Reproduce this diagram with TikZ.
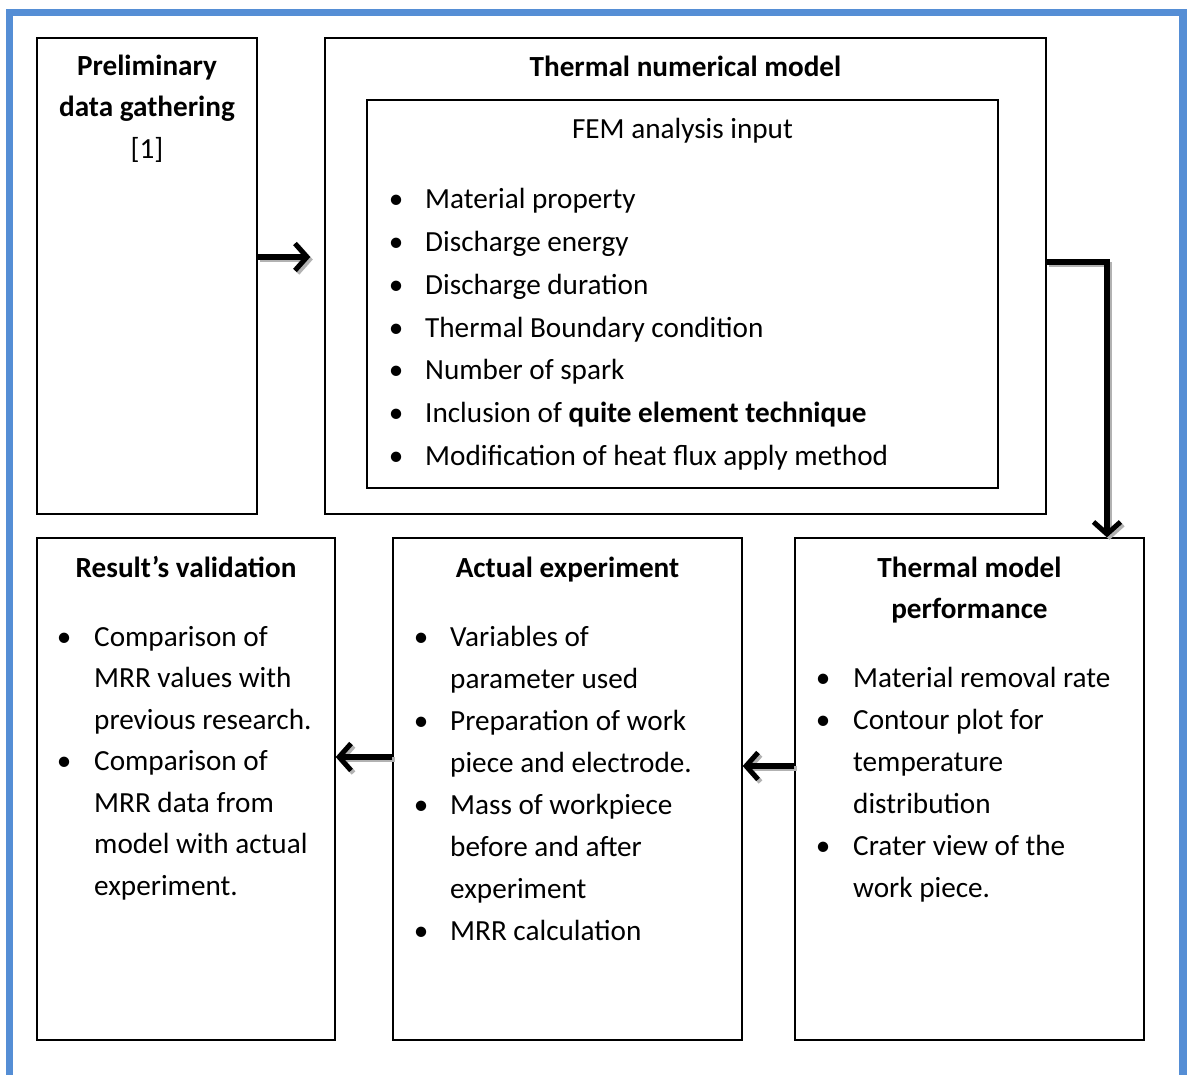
\documentclass[tikz,border=0pt]{standalone}
\usepackage{fontspec}
\setmainfont{Carlito}
\usetikzlibrary{arrows.meta,shadows}
\definecolor{frameblue}{RGB}{85,142,213}
\newcommand{\bul}{\makebox[0pt]{\textbullet}}
\begin{document}
\begin{tikzpicture}[x=1pt,y=-1pt,
  box/.style={draw=black, line width=1.4pt, fill=white, inner sep=0pt,
    drop shadow={shadow xshift=1.4pt,shadow yshift=-1.4pt,fill=gray!70,opacity=1}},
  txt/.style={inner sep=0pt, anchor=base, font=\fontsize{29.2}{41.5}\selectfont},
  ttl/.style={inner sep=0pt, anchor=base, font=\fontsize{29.2}{41.5}\selectfont\bfseries},
  lst/.style={inner sep=0pt, anchor=base west},
  arr/.style={line width=5.5pt, -{Straight Barb[length=12pt,width=27pt,line width=5pt]}},
  arrsh/.style={arr, draw=gray!60, transform canvas={shift={(2.5pt,-2.5pt)}}},
]
\useasboundingbox (0,0) rectangle (1187,1075);
\fill[white] (0,0) rectangle (1187,1075);
% frame
\draw[frameblue, line width=7.5pt] (9.5,1095) -- (9.5,12.5) -- (1183,12.5) -- (1183,1095);

% boxes
\node[box, minimum width=220pt, minimum height=476pt] (prelim) at (147,276) {};
\node[box, minimum width=721pt, minimum height=476pt] (tnm) at (685.5,276) {};
\node[box, minimum width=631pt, minimum height=388pt] (fem) at (682.5,294) {};
\node[box, minimum width=298pt, minimum height=502pt] (valid) at (186,789) {};
\node[box, minimum width=349pt, minimum height=502pt] (actual) at (567.5,789) {};
\node[box, minimum width=349pt, minimum height=502pt] (perf) at (969.5,789) {};

% titles
\node[ttl] (p1) at (147,76) {Preliminary};
\node[ttl] (p2) at (147,117) {data gathering};
\node[txt] (p3) at (147,159) {[1]};
\node[ttl] (t1) at (685.5,77) {Thermal numerical model};
\node[txt] (f1) at (682.5,139) {FEM analysis input};
\node[ttl] (v1) at (186,577) {Result’s validation};
\node[ttl] (a1) at (567.5,577) {Actual experiment};
\node[ttl] (q1) at (969.5,577) {Thermal model};
\node[ttl] (q2) at (969.5,618) {performance};

% lists
\node[lst] (femlist) at (396,209) {\fontsize{29.2}{42.7}\selectfont
  \begin{tabular}[t]{@{}p{29pt}@{}l@{}}
  \bul & Material property\\
  \bul & Discharge energy\\
  \bul & Discharge duration\\
  \bul & Thermal Boundary condition\\
  \bul & Number of spark\\
  \bul & Inclusion of \textbf{quite element technique}\\
  \bul & Modification of heat flux apply method
  \end{tabular}};
\node[lst] (vlist) at (64,646) {\fontsize{29.2}{41.5}\selectfont
  \begin{tabular}[t]{@{}p{30pt}@{}l@{}}
  \bul & Comparison of\\
       & MRR values with\\
       & previous research.\\
  \bul & Comparison of\\
       & MRR data from\\
       & model with actual\\
       & experiment.
  \end{tabular}};
\node[lst] (alist) at (421,646) {\fontsize{29.2}{42}\selectfont
  \begin{tabular}[t]{@{}p{29pt}@{}l@{}}
  \bul & Variables of\\
       & parameter used\\
  \bul & Preparation of work\\
       & piece and electrode.\\
  \bul & Mass of workpiece\\
       & before and after\\
       & experiment\\
  \bul & MRR calculation
  \end{tabular}};
\node[lst] (qlist) at (823,687) {\fontsize{29.2}{42}\selectfont
  \begin{tabular}[t]{@{}p{30pt}@{}l@{}}
  \bul & Material removal rate\\
  \bul & Contour plot for\\
       & temperature\\
       & distribution\\
  \bul & Crater view of the\\
       & work piece.
  \end{tabular}};

% arrows
\coordinate (y1) at (0,257);
\coordinate (c2) at (1107,262);
\coordinate (y3) at (0,766);
\coordinate (y4) at (0,757);
\draw[arrsh, shorten >=14pt] (prelim.east |- y1) -- (tnm.west |- y1);
\draw[arrsh] (tnm.east |- c2) -- (c2) -- (perf.north -| c2);
\draw[arrsh] (perf.west |- y3) -- (actual.east |- y3);
\draw[arrsh] (actual.west |- y4) -- (valid.east |- y4);
\draw[arr, shorten >=14pt] (prelim.east |- y1) -- (tnm.west |- y1);
\draw[arr] (tnm.east |- c2) -- (c2) -- (perf.north -| c2);
\draw[arr] (perf.west |- y3) -- (actual.east |- y3);
\draw[arr] (actual.west |- y4) -- (valid.east |- y4);
\end{tikzpicture}
\end{document}
